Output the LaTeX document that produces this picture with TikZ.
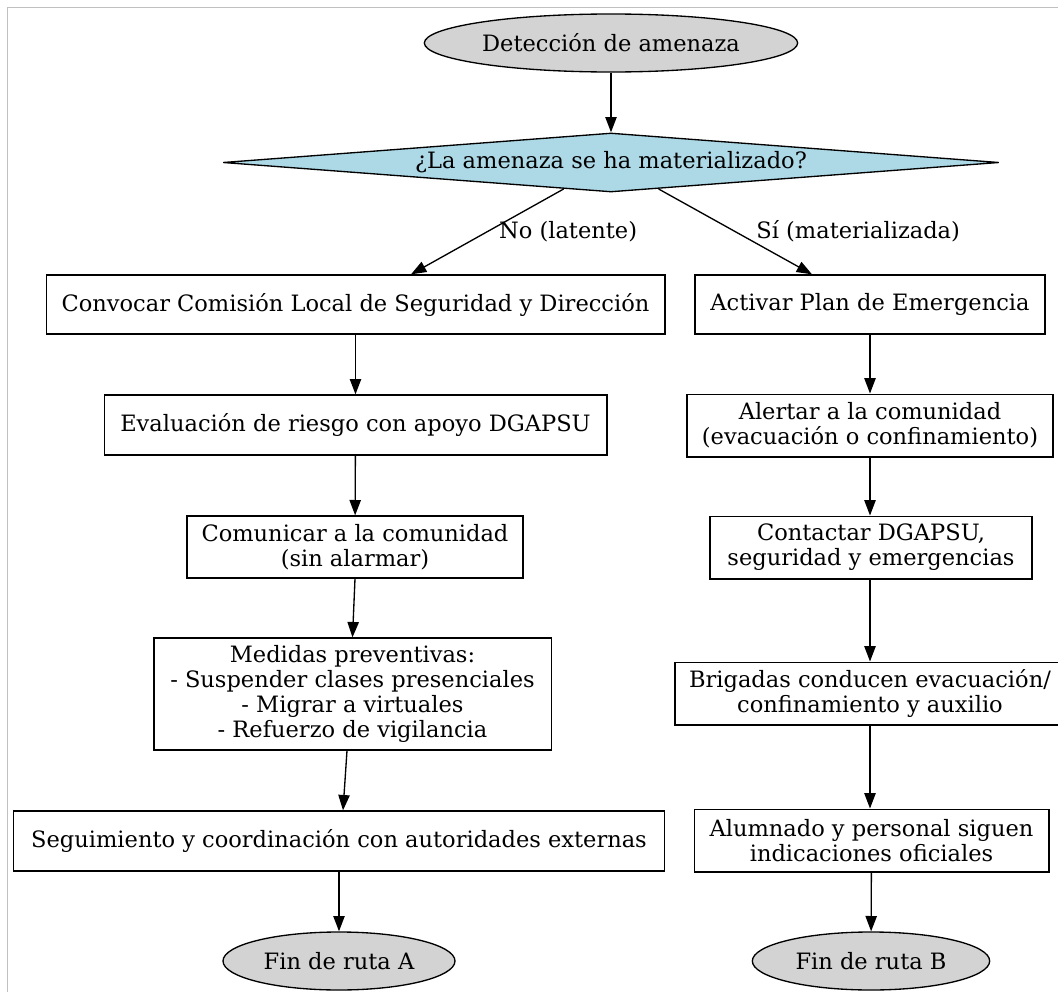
\documentclass[tikz,border=0pt]{standalone}
\usepackage{fontspec}
\setmainfont{DejaVu Serif}
\usepackage{xcolor}
\usetikzlibrary{positioning, shapes.geometric, arrows.meta, calc}
\definecolor{gvgray}{HTML}{D3D3D3}
\definecolor{gvblue}{HTML}{ADD8E6}
\definecolor{marco}{HTML}{C0C0C0}

\begin{document}
\begin{tikzpicture}[
	x=0.75pt, y=-0.75pt,
	font=\fontsize{16.9pt}{18.9pt}\selectfont,
	caja/.style={rectangle, draw=black, line width=1pt, fill=white, align=center, inner sep=0pt},
	fin/.style={ellipse, draw=black, line width=1pt, fill=gvgray, inner sep=0pt, minimum height=43.5pt},
	decision/.style={diamond, draw=black, line width=1pt, fill=gvblue, aspect=13, inner sep=0pt, minimum width=582pt, minimum height=44.25pt},
	flecha/.style={-{Triangle[length=11.5pt, width=8.5pt]}, line width=1pt},
	]
		\useasboundingbox (0,0) rectangle (1058,992);
		\clip (0,0) rectangle (1058,992);
		\draw[marco, line width=0.9pt] (7.5,992) -- (7.5,7.5) -- (1058,7.5);

		%Nodes
		\node[fin, minimum width=280pt]    (Deteccion)    at (611,43)      {Detección de amenaza};
		\node[decision]                    (Pregunta)     at (611,162.5)   {¿La amenaza se ha materializado?};

		\node[caja, minimum width=464pt, minimum height=44.25pt] (Convocar)    at (355.5,304.5) {Convocar Comisión Local de Seguridad y Dirección};
		\node[caja, minimum width=377pt, minimum height=45pt]    (Evaluacion)  at (355.5,425)   {Evaluación de riesgo con apoyo DGAPSU};
		\node[caja, minimum width=252pt, minimum height=46.5pt]  (Comunicar)   at (355,547)     {Comunicar a la comunidad\\(sin alarmar)};
		\node[caja, minimum width=298pt, minimum height=84pt]    (Medidas)     at (352.5,694)   {Medidas preventivas:\\- Suspender clases presenciales\\- Migrar a virtuales\\- Refuerzo de vigilancia};
		\node[caja, minimum width=488pt, minimum height=45pt]    (Seguimiento) at (339,841)     {Seguimiento y coordinación con autoridades externas};
		\node[fin, minimum width=174pt]    (FinA)         at (339,961)     {Fin de ruta A};

		\node[caja, minimum width=262.5pt, minimum height=44.25pt] (Activar)   at (870,304.5)   {Activar Plan de Emergencia};
		\node[caja, minimum width=274.5pt, minimum height=47pt]    (Alertar)   at (870,425.5)   {Alertar a la comunidad\\(evacuación o confinamiento)};
		\node[caja, minimum width=241.5pt, minimum height=47pt]    (Contactar) at (871,547.5)   {Contactar DGAPSU,\\seguridad y emergencias};
		\node[caja, minimum width=292.5pt, minimum height=47pt]    (Brigadas)  at (870,693.5)   {Brigadas conducen evacuación/\\confinamiento y auxilio};
		\node[caja, minimum width=266pt, minimum height=47pt]      (Alumnado)  at (871.5,840.5) {Alumnado y personal siguen\\indicaciones oficiales};
		\node[fin, minimum width=178pt]    (FinB)         at (871,961)     {Fin de ruta B};

		%Lines
		\draw[flecha] (Deteccion) -- (Pregunta);
		\draw[flecha] (Pregunta) -- node[midway, right=5pt] {No (latente)} ($(Convocar.north)+(55.5,0)$);
		\draw[flecha] (Pregunta) -- node[midway, right=12pt] {Sí (materializada)} ($(Activar.north)+(-58,0)$);

		\draw[flecha] (Convocar) -- (Evaluacion);
		\draw[flecha] (Evaluacion) -- (Comunicar);
		\draw[flecha] (Comunicar.south) -- (Medidas.north);
		\draw[flecha] ($(Medidas.south)+(-5.5,0)$) -- ($(Seguimiento.north)+(4,0)$);
		\draw[flecha] (Seguimiento) -- (FinA);

		\draw[flecha] (Activar) -- (Alertar);
		\draw[flecha] (Alertar.south) -- (Alertar.south |- Contactar.north);
		\draw[flecha] (Contactar.south -| Brigadas.north) -- (Brigadas.north);
		\draw[flecha] (Brigadas.south) -- (Brigadas.south |- Alumnado.north);
		\draw[flecha] (Alumnado) -- (FinB);
	\end{tikzpicture}
\end{document}
